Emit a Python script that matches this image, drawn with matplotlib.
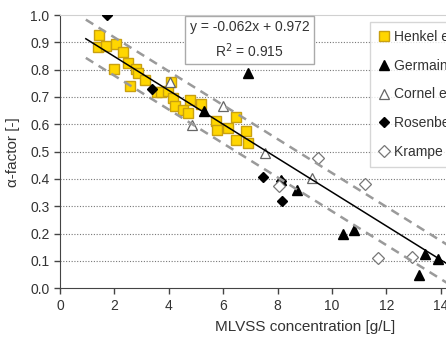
"""alpha-factor vs MLVSS concentration, with linear fit and prediction band."""

import matplotlib

matplotlib.use("Agg")
import matplotlib.pyplot as plt
import numpy as np

plt.rcParams["font.family"] = ["Liberation Sans", "DejaVu Sans"]

# data (MLVSS g/L, alpha-factor)
henkel_x = [1.42, 1.38, 1.70, 2.06, 2.30, 1.97, 2.51, 2.78, 2.85, 2.57, 3.13, 3.58,
            3.72, 4.08, 3.97, 4.15, 4.21, 4.53, 4.69, 4.78, 5.19, 5.73, 5.78, 6.18,
            6.47, 6.48, 6.85, 6.90]
henkel_y = [0.927, 0.883, 0.885, 0.893, 0.864, 0.803, 0.824, 0.803, 0.786, 0.740,
            0.763, 0.718, 0.720, 0.756, 0.722, 0.698, 0.667, 0.653, 0.640, 0.689,
            0.673, 0.614, 0.579, 0.588, 0.625, 0.542, 0.575, 0.532]
germain_x = [6.90, 5.28, 8.11, 8.72, 10.39, 10.81, 13.41, 13.91, 13.20]
germain_y = [0.789, 0.650, 0.396, 0.359, 0.198, 0.215, 0.125, 0.107, 0.048]
cornel_x = [4.04, 4.84, 6.00, 7.53, 9.25]
cornel_y = [0.755, 0.597, 0.668, 0.495, 0.402]
rosen_x = [1.72, 3.38, 7.45, 8.13, 8.15]
rosen_y = [1.000, 0.731, 0.408, 0.393, 0.320]
krampe_x = [9.50, 8.06, 11.22, 11.70, 12.95]
krampe_y = [0.475, 0.374, 0.381, 0.112, 0.116]

labels = ["Henkel et al. (2011)", "Germain et al. (2007)", "Cornel et al. (2003)",
          "Rosenberger (2003)", "Krampe & Krauth (2003)"]

slope, intercept = -0.062, 0.972
band = 0.07
fit_x = [0.95, 16.0]

fig = plt.figure(figsize=(4.46, 3.41), dpi=100)
ax = fig.add_axes([60 / 446, 0.1545, 489.6 / 446, 0.8015])

ax.set_xlim(0, 18)
ax.set_ylim(0, 1.0)
ax.set_xticks(np.arange(0, 19, 2))
ax.set_yticks(np.arange(0, 1.01, 0.1))
ax.yaxis.set_major_formatter(matplotlib.ticker.FormatStrFormatter("%.1f"))

for yv in np.arange(0.1, 0.95, 0.1):
    ax.axhline(yv, color="#777777", lw=0.8, ls=(0, (1, 1.5)), zorder=1)

gray = "#444444"
ax.spines["left"].set_color(gray)
ax.spines["bottom"].set_color(gray)
ax.spines["top"].set_color("#d0d0d0")
ax.spines["right"].set_visible(False)
ax.tick_params(axis="both", colors=gray, labelcolor="#333333", labelsize=10,
               length=4, width=1)

fx = np.array(fit_x)
fy = slope * fx + intercept
ax.plot(fx, fy, color="black", lw=1.1, zorder=4)
for off in (band, -band):
    ax.plot(fx, fy + off, color="#9a9a9a", lw=1.8, ls=(0, (3.5, 2.5)), zorder=4)

ax.plot(henkel_x, henkel_y, "s", ms=7.5, mfc="#ffd600", mec="#c9a010", mew=1.0,
        ls="none", zorder=3, label=labels[0])
ax.plot(germain_x, germain_y, "^", ms=6.5, mfc="black", mec="black",
        ls="none", zorder=3, label=labels[1])
ax.plot(cornel_x, cornel_y, "^", ms=7, mfc="white", mec="#666666", mew=0.9,
        ls="none", zorder=3, label=labels[2])
ax.plot(rosen_x, rosen_y, "D", ms=5, mfc="black", mec="black",
        ls="none", zorder=3, label=labels[3])
ax.plot(krampe_x, krampe_y, "D", ms=6, mfc="white", mec="#777777", mew=0.9,
        ls="none", zorder=3, label=labels[4])

ax.set_xlabel("MLVSS concentration [g/L]", fontsize=11, color="#333333", labelpad=5)
ax.set_ylabel("α-factor [-]", fontsize=11, color="#333333", labelpad=7)

leg = ax.legend(loc="upper left", bbox_to_anchor=(370 / 446, 1 - 22 / 341),
                bbox_transform=fig.transFigure, fontsize=10, frameon=True,
                fancybox=False, edgecolor="#cccccc", handlelength=0.8,
                handletextpad=0.3, labelspacing=1.05, borderpad=0.6,
                borderaxespad=0)
leg.get_frame().set_linewidth(1.0)
for t in leg.get_texts():
    t.set_color("#333333")

fig.text(249.5 / 446, 1 - 40 / 341, "y = -0.062x + 0.972\nR$^2$ = 0.915",
         ha="center", va="center", fontsize=10, color="#333333", linespacing=1.5,
         bbox=dict(boxstyle="square,pad=0.3", fc="white", ec="#aaaaaa", lw=1.0),
         zorder=10)

fig.savefig("out.png", dpi=100)
